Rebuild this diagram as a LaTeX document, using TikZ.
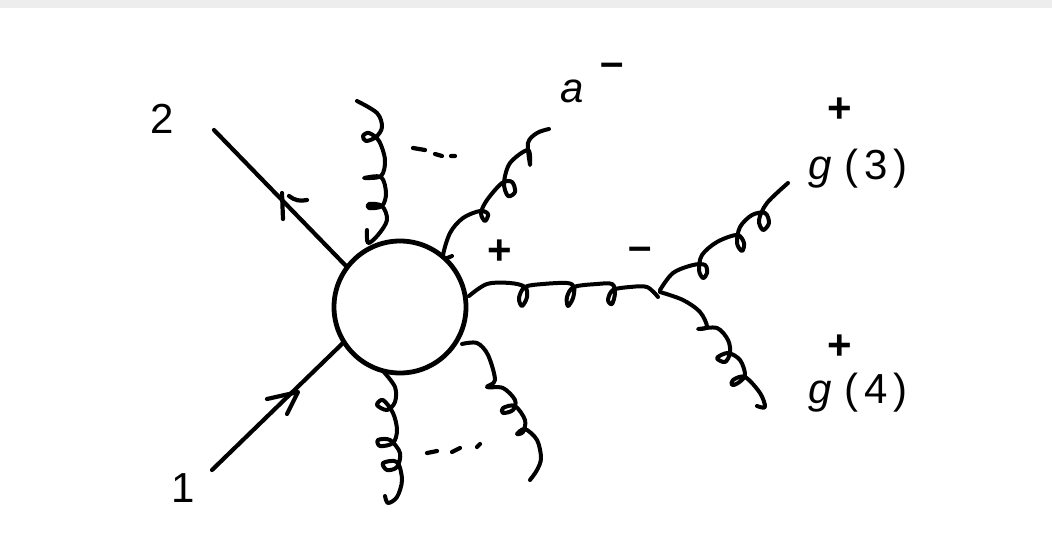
\documentclass[tikz,border=0pt]{standalone}
\usepackage{fontspec}
\setmainfont{Liberation Sans}
\tikzset{gluon/.style={line width=4pt,smooth,tension=0.55},
  fermion/.style={line width=4.2pt},
  scrawl/.style={inner sep=0pt,font=\fontsize{42}{42}\selectfont},
  sign/.style={inner sep=0pt,font=\bfseries\fontsize{42}{42}\selectfont}}
\begin{document}
\begin{tikzpicture}[x=1pt,y=-1pt,line join=round,line cap=round]
\useasboundingbox (0,0) rectangle (1052,544);
\fill[black!7] (0,0) rectangle (1052,8);
\node[circle,draw,line width=4.8pt,minimum size=132pt,inner sep=0pt,outer sep=0pt] (blob) at (400,307) {};
\coordinate (two) at (214,130);
\coordinate (one) at (212,470);
\draw[fermion] (two)--(blob.143);
\draw[fermion] (one)--(blob.212);
\draw[fermion] (282,193)--(283,219) (289,196) to[bend right=25] (307,200);
\draw[fermion] (267,399)--(298,392)--(287,414);
\node[scrawl] (labtwo) at (162,119) {2};
\node[scrawl] (labone) at (183,488) {1};
\node[scrawl] (laba) at (572,91) {\itshape a};
\node[sign] (minusa) at (612,70) {--};
\node[sign] (plusmid) at (500,252) {+};
\node[sign] (minusmid) at (640,254) {--};
\node[sign] (plusthree) at (840,110) {+};
\node[sign] (plusfour) at (840,347) {+};
\node[scrawl,anchor=west] (labthree) at (808,169) {\itshape g\upshape\hspace{13pt}(\hspace{6pt}3\hspace{6pt})};
\node[scrawl,anchor=west] (labfour) at (808,393) {\itshape g\upshape\hspace{13pt}(\hspace{6pt}4\hspace{6pt})};
\draw[gluon] plot coordinates {(357,101)(377,113)(382,127)(376,137)(366,141)(363,136)(369,133)(379,141)(385,160)(381,176)(364,178)(381,177)(386,193)(382,206)(369,208)(369,204)(382,206)(387,220)(378,235)(368,243)(367,230)};
\draw[gluon] plot coordinates {(452,256)(443,257)(450,233)(463,218)(480,211)(488,214)(485,221)(481,213)(487,200)(502,183)(512,182)(515,192)(508,196)(504,183)(510,163)(528,150)(530,165)(528,143)(537,133)(549,129)};
\draw[gluon] plot coordinates {(469,296)(487,284)(510,283)(525,287)(527,297)(522,306)(519,298)(525,287)(543,284)(567,283)(574,287)(573,298)(568,306)(567,297)(574,287)(597,284)(612,284)(615,293)(612,304)(608,300)(613,290)(630,287)(647,287)(658,297)};
\draw[gluon] plot coordinates {(660,290)(673,273)(693,265)(705,265)(707,273)(703,278)(699,270)(702,255)(717,242)(737,235)(744,243)(742,251)(737,243)(740,227)(752,215)(765,213)(769,223)(763,230)(759,220)(767,203)(788,183)};
\draw[gluon] plot coordinates {(660,292)(683,300)(700,312)(707,327)(698,329)(717,328)(728,340)(730,353)(725,362)(717,358)(728,353)(740,360)(745,375)(738,383)(732,385)(733,380)(745,377)(760,393)(765,407)(757,406)};
\draw[gluon] plot coordinates {(383,371)(395,387)(395,402)(387,410)(377,405)(383,400)(393,413)(397,430)(393,443)(380,446)(378,440)(390,440)(400,453)(397,467)(387,470)(383,463)(397,462)(402,480)(397,497)(388,503)(385,496)};
\draw[gluon] plot coordinates {(462,344)(477,343)(488,355)(495,380)(487,387)(503,388)(515,400)(513,410)(503,413)(503,408)(515,406)(525,420)(523,432)(517,434)(525,429)(537,440)(541,458)(537,470)(530,480)};
\draw[fermion] (413,148)--(425,150) (435,154)--(442,156) (451,156)--(455,156);
\draw[fermion] (427,453)--(437,451) (452,452)--(460,448) (477,447)--(480,444);
\end{tikzpicture}
\end{document}
